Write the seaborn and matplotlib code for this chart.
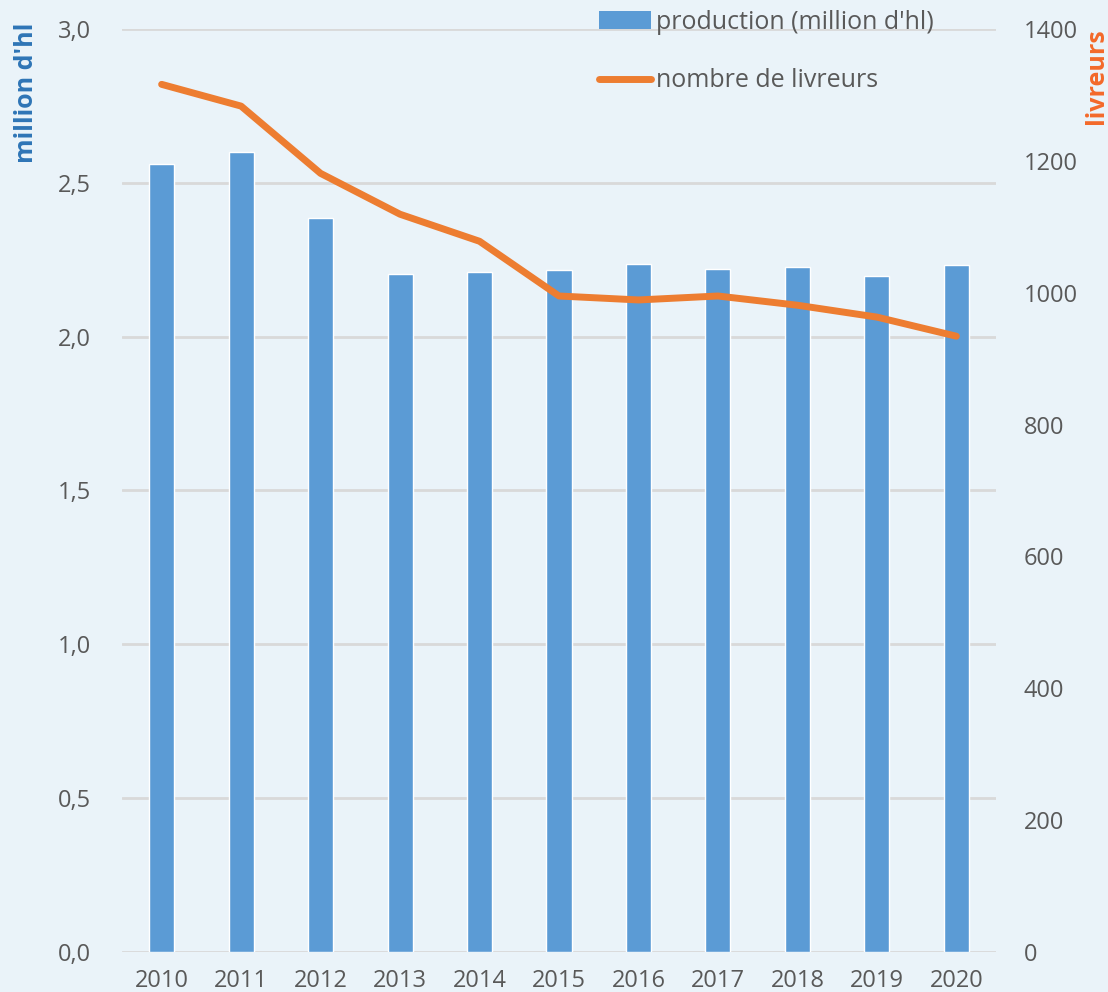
import numpy as np
import pandas as pd
import seaborn as sns
import matplotlib.pyplot as plt
from matplotlib.ticker import FuncFormatter
from matplotlib.patches import Patch
from matplotlib.lines import Line2D

years = ['2010', '2011', '2012', '2013', '2014', '2015', '2016', '2017', '2018', '2019', '2020']
production = [2.56, 2.60, 2.385, 2.203, 2.21, 2.216, 2.236, 2.22, 2.226, 2.197, 2.233]
livreurs = [1316, 1283, 1181, 1119, 1078, 995, 989, 995, 981, 963, 934]

bg = '#eaf3f9'
blue = '#5b9bd5'
orange = '#ed7d31'
grey = '#595959'

sns.set_theme(style='white')
plt.rcParams['font.family'] = ['Open Sans', 'DejaVu Sans']

df = pd.DataFrame({'year': years, 'production': production, 'livreurs': livreurs})

fig = plt.figure(figsize=(11.08, 9.92), dpi=100, facecolor=bg)
ax = fig.add_axes([0.110, 0.0403, 0.789, 0.9305])
ax.set_facecolor(bg)

sns.barplot(data=df, x='year', y='production', color=blue, width=0.315,
            saturation=1, ax=ax, zorder=3)
ax.set_ylim(0, 3.0)
ax.set_yticks(np.arange(0, 3.01, 0.5))
ax.yaxis.set_major_formatter(FuncFormatter(lambda v, p: f'{v:.1f}'.replace('.', ',')))
ax.grid(axis='y', color='#d9d9d9', linewidth=2, zorder=0)
ax.set_axisbelow(True)
ax.set_xlim(-0.5, len(years) - 0.5)
ax.set_xlabel('')
ax.set_ylabel('')
for s in ax.spines.values():
    s.set_visible(False)
ax.tick_params(axis='both', length=0, labelsize=17, colors=grey, pad=12)
ax.tick_params(axis='y', pad=22)

ax2 = ax.twinx()
sns.lineplot(x=np.arange(len(years)), y=livreurs, color=orange, linewidth=5,
             ax=ax2, zorder=4)
ax2.set_ylim(0, 1400)
ax2.set_yticks(range(0, 1401, 200))
for s in ax2.spines.values():
    s.set_visible(False)
ax2.tick_params(axis='y', length=0, labelsize=17, colors=grey, pad=20)
ax2.grid(False)

fig.text(0.024, 0.906, "million d'hl", rotation=90, ha='center', va='center',
         fontsize=18, fontweight='bold', color='#2e75b6')
fig.text(0.990, 0.923, 'livreurs', rotation=90, ha='center', va='center',
         fontsize=18, fontweight='bold', color='#f4692a')

handles = [Patch(facecolor=blue, edgecolor='none'),
           Line2D([0], [0], color=orange, linewidth=5)]
fig.legend(handles, ["production (million d'hl)", 'nombre de livreurs'],
           loc='upper left', bbox_to_anchor=(0.520, 1.013), frameon=False,
           fontsize=18, labelcolor=grey, handlelength=2.1, handletextpad=0.2,
           labelspacing=1.35)

fig.savefig('out.png', dpi=100, facecolor=bg)
